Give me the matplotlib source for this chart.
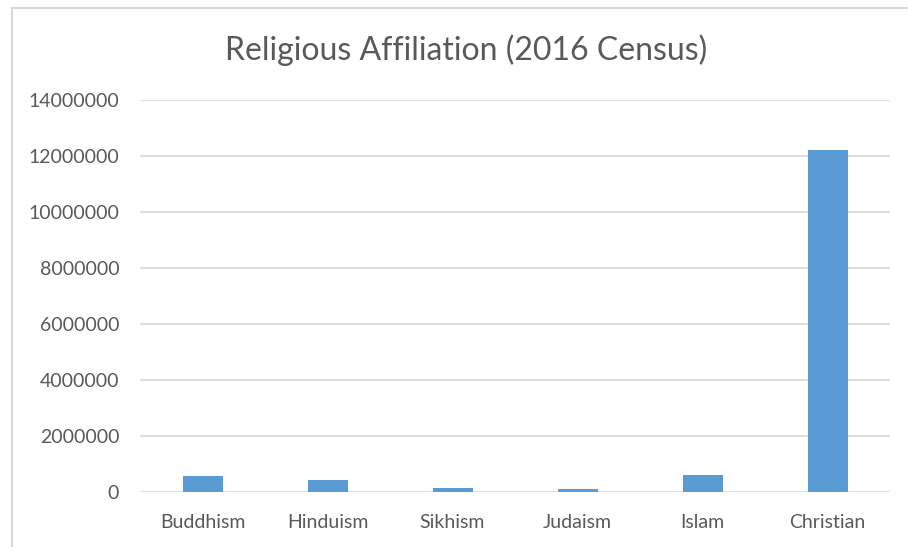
import matplotlib.pyplot as plt
from matplotlib.lines import Line2D
import numpy as np

religions = ['Buddhism', 'Hinduism', 'Sikhism', 'Judaism', 'Islam', 'Christian']
counts = [563700, 440300, 125900, 91000, 604200, 12201600]
yticks = [0, 2000000, 4000000, 6000000, 8000000, 10000000, 12000000, 14000000]

plt.rcParams['font.family'] = ['Lato', 'DejaVu Sans']
grey = '#595959'

fig = plt.figure(figsize=(9.08, 5.47), dpi=100)
ax = fig.add_axes([140/908, 1-492/547, 750/908, 392/547])

x = np.arange(len(religions))
ax.bar(x, counts, width=0.32, color='#5b9bd5', zorder=3)

ax.set_xlim(-0.5, len(religions)-0.5)
ax.set_ylim(0, 14000000)
ax.set_yticks(yticks)
ax.set_yticklabels([str(v) for v in yticks])
ax.set_xticks(x)
ax.set_xticklabels(religions)
ax.tick_params(axis='both', length=0, labelsize=14, labelcolor=grey)
ax.tick_params(axis='y', pad=15)
ax.tick_params(axis='x', pad=16)
ax.grid(axis='y', color='#d9d9d9', linewidth=1.2, zorder=0)
for s in ax.spines.values():
    s.set_visible(False)

fig.text(466/908, 1-60/547, 'Religious Affiliation (2016 Census)', ha='center', va='baseline',
         fontsize=23, color=grey)

# chart border
fig.add_artist(Line2D([12/908, 12/908], [0, 1-8/547], color='#d9d9d9', lw=1.5))
fig.add_artist(Line2D([12/908, 1], [1-8/547, 1-8/547], color='#d9d9d9', lw=1.5))

fig.savefig('out.png', dpi=100)
